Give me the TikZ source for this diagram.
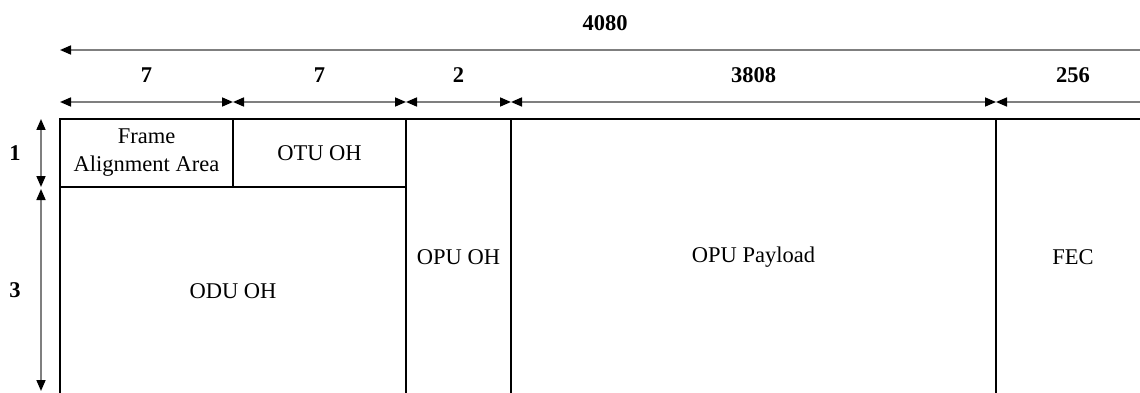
\documentclass[tikz,border=0pt]{standalone}
\usepackage{fontspec}
\setmainfont{Liberation Serif}
\usetikzlibrary{arrows.meta,positioning,calc}
\definecolor{Dim}{HTML}{7F7F7F}

\begin{document}
\begin{tikzpicture}[x=1pt,y=-1pt,
  cell/.style={draw=black,line width=1.3pt,inner sep=0pt,align=center,font=\fontsize{22.5}{28}\selectfont},
  dim/.style={Dim,line width=1.6pt},
  dimtip/.tip={Triangle[length=11pt,width=9pt,color=black]},
  lab/.style={text=black,font=\fontsize{22.5}{27}\selectfont\bfseries}]
\useasboundingbox (0,0) rectangle (1140,393);
% frame cells
\node[cell,minimum width=173pt,minimum height=68pt] (fa) at (146.5,153) {Frame\\Alignment Area};
\node[cell,minimum width=173pt,minimum height=68pt] (otu) at (319.5,153) {OTU OH};
\node[cell,minimum width=346pt,minimum height=208pt] (odu) at (233,291) {ODU OH};
\node[cell,minimum width=105pt,minimum height=276pt] (opu) at (458.5,257) {OPU OH};
\node[cell,minimum width=485pt,minimum height=276pt] (pay) at (753.5,257) {OPU Payload};
\node[cell,minimum width=154pt,minimum height=276pt] (fec) at (1073,257) {FEC};
% column widths
\coordinate (t0) at (60,50);
\coordinate (t1) at (1150,50);
\draw[dim,dimtip-] (t0) -- node[lab,yshift=26.5pt]{4080} (t1);
\foreach \n/\x in {0/60,1/233,2/406,3/511,4/996,5/1150} \coordinate (d\n) at (\x,102);
\draw[dim,dimtip-dimtip] (d0) -- node[lab,yshift=27pt]{7} (d1);
\draw[dim,dimtip-dimtip] (d1) -- node[lab,yshift=27pt]{7} (d2);
\draw[dim,dimtip-dimtip] (d2) -- node[lab,yshift=27pt]{2} (d3);
\draw[dim,dimtip-dimtip] (d3) -- node[lab,yshift=27pt]{3808} (d4);
\draw[dim,dimtip-] (d4) -- node[lab,yshift=27pt]{256} (d5);
% row heights
\coordinate (v0) at (41,119);
\coordinate (v1) at (41,187);
\coordinate (v2) at (41,189);
\coordinate (v3) at (41,391);
\draw[dim,dimtip-dimtip] (v0) -- node[lab,xshift=-26pt]{1} (v1);
\draw[dim,dimtip-dimtip] (v2) -- node[lab,xshift=-26pt]{3} (v3);
\end{tikzpicture}
\end{document}
